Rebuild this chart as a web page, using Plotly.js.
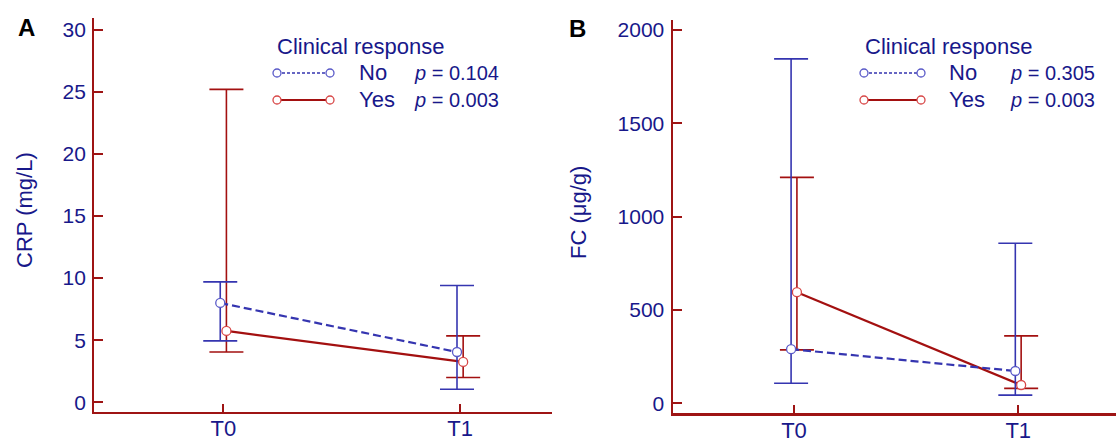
<!DOCTYPE html>
<html>
<head>
<meta charset="utf-8">
<script src="https://cdn.plot.ly/plotly-3.0.1.min.js"></script>
<style>html,body{margin:0;padding:0;background:#fff;}#chart{width:1116px;height:442px;}</style>
</head>
<body>
<div id="chart"></div>
<script>
// ---- data ----
const categories = ["T0", "T1"];
const groups = ["No", "Yes"];
const legendTitle = "Clinical response";

// Panel A: CRP (mg/L)
const crpNoMean = [8.0, 4.05];
const crpNoUpper = [9.7, 9.4];
const crpNoLower = [4.95, 1.05];
const crpYesMean = [5.75, 3.25];
const crpYesUpper = [25.2, 5.35];
const crpYesLower = [4.05, 2.0];
const crpPValues = ["0.104", "0.003"];

// Panel B: FC (µg/g)
const fcNoMean = [290, 173];
const fcNoUpper = [1845, 857];
const fcNoLower = [107, 44];
const fcYesMean = [595, 98];
const fcYesUpper = [1210, 361];
const fcYesLower = [286, 80];
const fcPValues = ["0.305", "0.003"];

// ---- styles ----
const W = 1116, H = 442;
const NAVY = "#18188a";
const AXRED = "#9e1414";
const BLUE_LINE = "#3535b0";
const BLUE_MK = "#5a5ac8";
const RED_LINE = "#a31010";
const RED_MK = "#d84848";
const FONT = "Liberation Sans, Arial, sans-serif";
const OFF = 0.013;

const idx = categories.map((c, i) => i);

function trace(mean, up, lo, isNo, xa, ya) {
  const lc = isNo ? BLUE_LINE : RED_LINE;
  return {
    type: "scatter", mode: "lines+markers",
    x: idx.map(i => i + (isNo ? -OFF : OFF)), y: mean,
    xaxis: xa, yaxis: ya, showlegend: false, hoverinfo: "skip",
    line: {color: lc, width: 2.2, dash: isNo ? "8px,4px" : "solid"},
    marker: {symbol: "circle", size: 9, color: "#ffffff",
             line: {color: isNo ? BLUE_MK : RED_MK, width: 1.3}},
    error_y: {type: "data", symmetric: false,
              array: up.map((u, i) => u - mean[i]),
              arrayminus: lo.map((l, i) => mean[i] - l),
              color: lc, thickness: 1.6, width: 17}
  };
}

const data = [
  trace(crpYesMean, crpYesUpper, crpYesLower, false, "x", "y"),
  trace(crpNoMean, crpNoUpper, crpNoLower, true, "x", "y"),
  trace(fcYesMean, fcYesUpper, fcYesLower, false, "x2", "y2"),
  trace(fcNoMean, fcNoUpper, fcNoLower, true, "x2", "y2")
];

const px = x => x / W;
const py = y => 1 - y / H;

function xAxis(domain, range, anchor) {
  return {
    domain: domain, range: range, anchor: anchor,
    tickmode: "array", tickvals: idx, ticktext: categories,
    ticks: "inside", ticklen: 8, tickwidth: 2, tickcolor: AXRED,
    showline: true, linecolor: AXRED, linewidth: 2.2,
    showgrid: false, zeroline: false, fixedrange: true,
    tickfont: {family: FONT, size: 22, color: NAVY},
    ticklabelstandoff: -4
  };
}
function yAxis(domain, range, dtick, anchor) {
  return {
    domain: domain, range: range, anchor: anchor,
    tick0: 0, dtick: dtick,
    ticks: "inside", ticklen: 9, tickwidth: 2, tickcolor: AXRED,
    showline: true, linecolor: AXRED, linewidth: 2.2,
    showgrid: false, zeroline: false, fixedrange: true,
    tickfont: {family: FONT, size: 21, color: NAVY},
    ticklabelstandoff: 2
  };
}

const shapes = [];
const annotations = [];

function legend(x0, sx0, sx1, nameX, pX, pvals) {
  annotations.push({xref: "paper", yref: "paper", x: px(x0), y: py(47),
    xanchor: "left", yanchor: "middle", showarrow: false,
    text: legendTitle, font: {family: FONT, size: 22, color: NAVY}});
  const rows = [73, 100];
  groups.forEach((g, k) => {
    const isNo = k === 0;
    const y = rows[k];
    shapes.push({type: "line", xref: "paper", yref: "paper",
      x0: px(sx0), x1: px(sx1), y0: py(y), y1: py(y),
      line: {color: isNo ? BLUE_LINE : RED_LINE, width: isNo ? 1.4 : 2, dash: isNo ? "3px,2px" : "solid"}});
    [sx0, sx1].forEach(cx => {
      shapes.push({type: "circle", xref: "paper", yref: "paper",
        xsizemode: "pixel", ysizemode: "pixel", xanchor: px(cx), yanchor: py(y),
        x0: -4, x1: 4, y0: -4, y1: 4, fillcolor: "#ffffff",
        line: {color: isNo ? BLUE_MK : RED_MK, width: 1.3}});
    });
    annotations.push({xref: "paper", yref: "paper", x: px(nameX), y: py(y),
      xanchor: "left", yanchor: "middle", showarrow: false,
      text: g, font: {family: FONT, size: 22, color: NAVY}});
    annotations.push({xref: "paper", yref: "paper", x: px(pX), y: py(y),
      xanchor: "left", yanchor: "middle", showarrow: false,
      text: "<i>p</i> = " + pvals[k], font: {family: FONT, size: 20, color: NAVY}});
  });
}
legend(275, 277, 330, 357, 412, crpPValues);
legend(863, 864, 921, 947, 1008, fcPValues);

annotations.push({xref: "paper", yref: "paper", x: px(26), y: py(27), xanchor: "center", yanchor: "middle",
  showarrow: false, text: "<b>A</b>", font: {family: FONT, size: 24, color: "#000"}});
annotations.push({xref: "paper", yref: "paper", x: px(578), y: py(29), xanchor: "center", yanchor: "middle",
  showarrow: false, text: "<b>B</b>", font: {family: FONT, size: 24, color: "#000"}});
annotations.push({xref: "paper", yref: "paper", x: px(24), y: py(210), xanchor: "center", yanchor: "middle",
  showarrow: false, textangle: -90, text: "CRP (mg/L)", font: {family: FONT, size: 22, color: NAVY}});
annotations.push({xref: "paper", yref: "paper", x: px(578), y: py(212), xanchor: "center", yanchor: "middle",
  showarrow: false, textangle: -90, text: "FC (\u03bcg/g)", font: {family: FONT, size: 22, color: NAVY}});

const layout = {
  width: W, height: H,
  margin: {l: 0, r: 0, t: 0, b: 0},
  paper_bgcolor: "#ffffff", plot_bgcolor: "rgba(0,0,0,0)",
  showlegend: false,
  xaxis: xAxis([px(94.3), px(551.7)], [-0.545, 1.387], "y"),
  yaxis: yAxis([py(411.5), py(18.3)], [-0.74, 30.92], 5, "x"),
  xaxis2: xAxis([px(672.7), 1], [-0.541, 1.436], "y2"),
  yaxis2: yAxis([py(413.3), py(20)], [-53.6, 2053], 500, "x2"),
  shapes: shapes, annotations: annotations
};

Plotly.newPlot("chart", data, layout, {staticPlot: true, displayModeBar: false});
</script>
</body>
</html>
